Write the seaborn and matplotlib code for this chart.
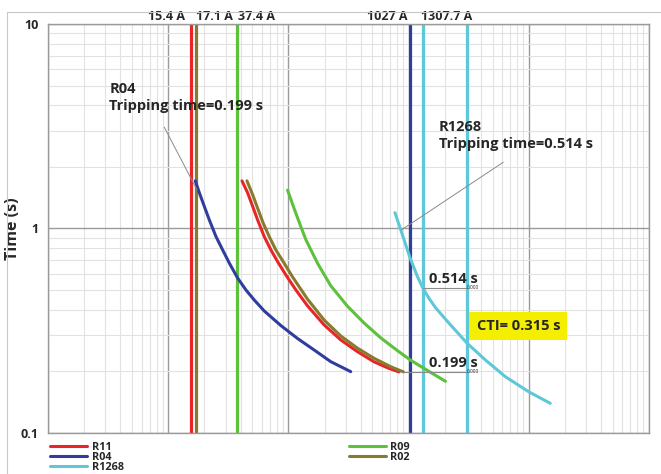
import pandas as pd
import seaborn as sns
import matplotlib.pyplot as plt
from matplotlib.lines import Line2D

# curve points (current in A, time in s)
r04_i = [16.8, 18.2, 20.0, 22.0, 25.0, 28.4, 32.3, 37.9, 44.4, 52.0, 63, 86.7, 119, 164, 225, 330]
r04_t = [1.71, 1.49, 1.28, 1.10, 0.912, 0.785, 0.676, 0.571, 0.500, 0.447, 0.395, 0.335, 0.290, 0.2545, 0.2233, 0.1995]

r11_i = [41.1, 45.9, 50.5, 55.5, 63.0, 71.6, 81.4, 95.4, 115, 144, 198, 273, 375, 515, 686, 831]
r11_t = [1.71, 1.49, 1.28, 1.10, 0.912, 0.785, 0.688, 0.592, 0.502, 0.419, 0.338, 0.285, 0.250, 0.223, 0.207, 0.199]

r02_i = [45.2, 50.5, 55.5, 61.8, 69.3, 78.7, 92.3, 108, 144, 198, 273, 375, 515, 709, 904]
r02_t = [1.71, 1.46, 1.255, 1.06, 0.912, 0.785, 0.676, 0.581, 0.452, 0.357, 0.298, 0.260, 0.232, 0.211, 0.199]

r09_i = [98.5, 111.7, 127, 140, 175, 225, 310, 426, 586, 806, 1039, 1522, 2028]
r09_t = [1.54, 1.25, 1.02, 0.88, 0.675, 0.525, 0.417, 0.345, 0.292, 0.253, 0.227, 0.198, 0.179]

r1268_i = [770, 858, 1027, 1181, 1307.7, 1480, 1675, 2160, 3070, 4355, 6383, 9961, 15080]
r1268_t = [1.195, 0.99, 0.72, 0.585, 0.514, 0.455, 0.41, 0.345, 0.2746, 0.2275, 0.1885, 0.1592, 0.1397]

# vertical pickup lines
pickup_i = [15.4, 17.1, 37.4, 1027, 1307.7, 3040]
pickup_relay = ["R11", "R02", "R09", "R04", "R1268", "R1268"]
pickup_labels = ["15.4 A", "17.1 A", "37.4 A", "1027 A", "1307.7 A", ""]

colors = {"R11": "#e8262a", "R04": "#2f3e9e", "R1268": "#5ec8d8",
          "R09": "#5cc13b", "R02": "#877b2c"}

curves = {"R04": (r04_i, r04_t), "R11": (r11_i, r11_t), "R02": (r02_i, r02_t),
          "R09": (r09_i, r09_t), "R1268": (r1268_i, r1268_t)}
df = pd.concat([pd.DataFrame({"I": i, "t": t, "relay": k}) for k, (i, t) in curves.items()])

sns.set_style("white")
plt.rcParams['font.family'] = ['Open Sans', 'DejaVu Sans']
plt.rcParams['font.weight'] = 'bold'

fig = plt.figure(figsize=(6.61, 4.74), dpi=100)
ax = fig.add_axes([48/661, 1-433/474, (649-48)/661, (433-24)/474])
ax.set_xscale("log")
ax.set_yscale("log")
ax.set_xlim(1, 1e5)
ax.set_ylim(0.1, 10)

ax.grid(which="minor", color="#e2e2e2", lw=0.8)
ax.grid(which="major", color="#9a9a9a", lw=1.0)
ax.set_axisbelow(True)

for x, r in zip(pickup_i, pickup_relay):
    ax.axvline(x, color=colors[r], lw=2.3)

sns.lineplot(data=df, x="I", y="t", hue="relay", palette=colors, estimator=None,
             sort=False, lw=2.2, legend=False, ax=ax)

# labels above the pickup lines
offs = [(-6, "right"), (0, "left"), (1, "left"), (-2, "right"), (-2, "left")]
for x, lab, (dx, ha) in zip(pickup_i, pickup_labels, offs):
    ax.annotate(lab, xy=(x, 1), xycoords=("data", "axes fraction"), xytext=(dx, 1),
                textcoords="offset pixels", ha=ha, va="bottom", fontsize=9, fontweight="bold")

# tripping time callouts
ax.plot([9.27, 17.4], [3.13, 1.54], color="#8a8a8a", lw=0.7)
ax.text(3.24, 5.2, "R04\nTripping time=0.199 s", fontsize=10.5, fontweight="bold",
        va="top", ha="left", linespacing=1.3)
ax.plot([6140, 869], [2.11, 0.983], color="#8a8a8a", lw=0.7)
ax.text(1775, 3.4, "R1268\nTripping time=0.514 s", fontsize=10.5, fontweight="bold",
        va="top", ha="left", linespacing=1.3)

ax.plot([1307.7, 3040], [0.514, 0.514], color="#8a8a8a", lw=0.8)
ax.plot([880, 3040], [0.199, 0.199], color="#8a8a8a", lw=0.8)
ax.text(1466, 0.526, "0.514 s", fontsize=10.5, fontweight="bold", va="bottom", ha="left")
ax.text(1466, 0.203, "0.199 s", fontsize=10.5, fontweight="bold", va="bottom", ha="left")
ax.text(3040, 0.514, "0.000", fontsize=3.5, va="center", ha="left", fontweight="normal")
ax.text(3040, 0.199, "0.000", fontsize=3.5, va="center", ha="left", fontweight="normal")
ax.text(8185, 0.333, "CTI= 0.315 s", fontsize=10.5, fontweight="bold", va="center", ha="center",
        bbox=dict(facecolor="#f4ee00", edgecolor="none", boxstyle="square,pad=0.5"))

ax.set_xticklabels([], minor=False)
ax.set_xticklabels([], minor=True)
ax.tick_params(axis="x", which="both", length=0)
ax.set_yticks([0.1, 1, 10])
ax.set_yticklabels(["0.1", "1", "10"], fontsize=9, fontweight="bold")
ax.tick_params(axis="y", which="major", length=0, pad=7)
ax.tick_params(axis="y", which="minor", length=0)
ax.set_xlabel("")
ax.set_ylabel("Time (s)", fontsize=11.5, fontweight="bold")
ax.yaxis.set_label_coords(-0.045, 0.5)
for s in ax.spines.values():
    s.set_color("#9a9a9a")
    s.set_linewidth(1.0)

order = ["R11", "R04", "R1268", "R09", "R02"]
handles = [Line2D([], [], color=colors[k], lw=2.2) for k in order]
ax.legend(handles, order, ncol=2, loc="upper left", bbox_to_anchor=(-0.005, -0.008),
          frameon=False, fontsize=7.8, handlelength=3.4, handletextpad=0.4,
          labelspacing=-0.1, columnspacing=20.8, borderaxespad=0.2, borderpad=0.3)

# outer frame (left and top edges)
fig.add_artist(Line2D([7/661, 7/661], [0, 1-12/474], transform=fig.transFigure, color="#c8c8c8", lw=0.8))
fig.add_artist(Line2D([7/661, 1], [1-12/474, 1-12/474], transform=fig.transFigure, color="#c8c8c8", lw=0.8))

fig.savefig("out.png", dpi=100)
